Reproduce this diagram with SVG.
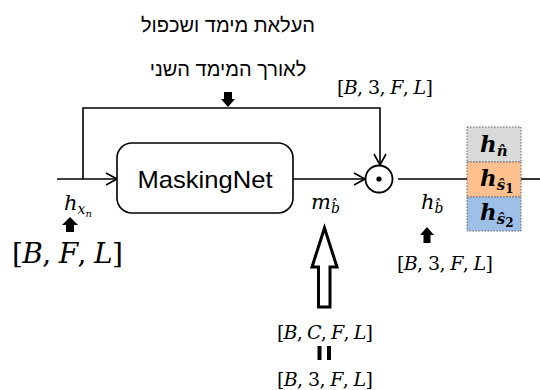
<svg xmlns="http://www.w3.org/2000/svg" width="540" height="390" viewBox="0 0 540 390">
  <defs>
    <marker id="open" markerUnits="userSpaceOnUse" markerWidth="14" markerHeight="14" refX="12" refY="7" orient="auto" overflow="visible">
      <path d="M1,1 L12,7 L1,13" fill="none" stroke="#000" stroke-width="1.6"/>
    </marker>
    <style>
      .ln { fill: none; stroke: #000; stroke-width: 1.6; }
      .heb { font-family: "Liberation Sans", "DejaVu Sans", sans-serif; font-size: 20px; fill: #000; }
      .math { font-family: "DejaVu Serif", "Liberation Serif", serif; fill: #000; }
      .it { font-style: italic; }
      .bi { font-style: italic; font-weight: bold; }
      .dim { font-size: 19px; }
      .cell { stroke: #666; stroke-width: 1; stroke-dasharray: 1.5 1.5; }
    </style>
  </defs>

  <!-- caption above the skip path -->
  <g id="caption">
    <text class="heb" x="228" y="32" text-anchor="middle" direction="rtl">העלאת מימד ושכפול</text>
    <text class="heb" x="228" y="76" text-anchor="middle" direction="rtl">לאורך המימד השני</text>
    <path d="M224,92 H232 V99 H235 L228,107 L221,99 H224 Z" fill="#000"/>
  </g>

  <!-- connectors -->
  <g id="connectors">
    <line class="ln" x1="57" y1="179" x2="117" y2="179" marker-end="url(#open)"/>
    <polyline class="ln" points="83,179 83,108 380,108 380,165" marker-end="url(#open)"/>
    <line class="ln" x1="293" y1="179" x2="365" y2="179" marker-end="url(#open)"/>
    <line class="ln" x1="398" y1="179" x2="467" y2="179"/>
    <line class="ln" x1="521" y1="179" x2="540" y2="179"/>
  </g>

  <!-- masking network block -->
  <g id="maskingnet">
    <rect x="117" y="143" width="176" height="70" rx="15" fill="#fff" stroke="#000" stroke-width="1.6"/>
    <text x="205" y="188" text-anchor="middle" font-family="Liberation Sans, Arial, sans-serif" font-size="24" textLength="135" lengthAdjust="spacingAndGlyphs">MaskingNet</text>
  </g>

  <!-- element-wise product -->
  <g id="product">
    <circle cx="379" cy="179" r="13.5" fill="#fff" stroke="#000" stroke-width="1.8"/>
    <circle cx="379" cy="179" r="2.6" fill="#000"/>
  </g>

  <!-- stacked output streams -->
  <g id="outputs">
    <rect class="cell" x="467" y="127" width="54" height="35" fill="#d9d9d9"/>
    <rect class="cell" x="467" y="162" width="54" height="35" fill="#ffc08f"/>
    <rect class="cell" x="467" y="197" width="54" height="34" fill="#9dbfe8"/>
    <text class="math" x="480" y="152"><tspan class="bi" font-size="23">h</tspan><tspan class="bi" font-size="15" dy="4">n̂</tspan></text>
    <text class="math" x="480" y="186"><tspan class="bi" font-size="23">h</tspan><tspan class="bi" font-size="15" dy="4">ŝ</tspan><tspan font-size="12" font-weight="bold" dy="3">1</tspan></text>
    <text class="math" x="480" y="220"><tspan class="bi" font-size="23">h</tspan><tspan class="bi" font-size="15" dy="4">ŝ</tspan><tspan font-size="12" font-weight="bold" dy="3">2</tspan></text>
  </g>

  <!-- input label -->
  <g id="input-label">
    <text class="math it" x="64" y="210"><tspan font-size="21">h</tspan><tspan font-size="14" dy="4">x</tspan><tspan font-size="10" dy="3">n</tspan></text>
    <path d="M70,217 L78,225 H74 V232 H66 V225 H62 Z" fill="#000"/>
    <text class="math" x="12" y="263" font-size="28" textLength="111" lengthAdjust="spacing">[<tspan class="it">B</tspan>, <tspan class="it">F</tspan>, <tspan class="it">L</tspan>]</text>
  </g>

  <!-- skip path shape -->
  <g id="skip-label">
    <text class="math dim" x="337" y="94" textLength="96" lengthAdjust="spacing">[<tspan class="it">B</tspan>, 3, <tspan class="it">F</tspan>, <tspan class="it">L</tspan>]</text>
  </g>

  <!-- mask label and its shape -->
  <g id="mask-label">
    <text class="math it" x="311" y="209"><tspan font-size="21">m</tspan><tspan font-size="14" dy="4">b̂</tspan></text>
    <path d="M324.5,228 L337,267 H330 V307 H318.5 V267 H312 Z" fill="#fff" stroke="#000" stroke-width="3" stroke-linejoin="miter"/>
    <text class="math dim" x="325" y="339" text-anchor="middle" textLength="96" lengthAdjust="spacing">[<tspan class="it">B</tspan>, <tspan class="it">C</tspan>, <tspan class="it">F</tspan>, <tspan class="it">L</tspan>]</text>
    <rect x="317.5" y="346" width="4" height="14" fill="#000"/>
    <rect x="327" y="346" width="4" height="14" fill="#000"/>
    <text class="math dim" x="325" y="386" text-anchor="middle" textLength="96" lengthAdjust="spacing">[<tspan class="it">B</tspan>, 3, <tspan class="it">F</tspan>, <tspan class="it">L</tspan>]</text>
  </g>

  <!-- masked feature label -->
  <g id="masked-label">
    <text class="math it" x="421" y="209"><tspan font-size="21">h</tspan><tspan font-size="14" dy="4">b̂</tspan></text>
    <path d="M427,227 L434,235 H430.5 V243 H423.5 V235 H420 Z" fill="#000"/>
    <text class="math dim" x="445" y="270" text-anchor="middle" textLength="96" lengthAdjust="spacing">[<tspan class="it">B</tspan>, 3, <tspan class="it">F</tspan>, <tspan class="it">L</tspan>]</text>
  </g>
</svg>
